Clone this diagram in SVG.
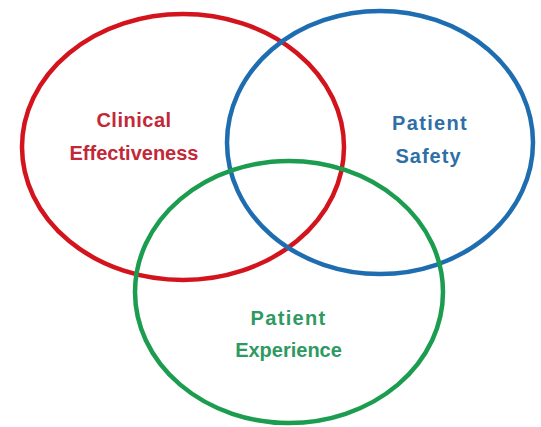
<svg xmlns="http://www.w3.org/2000/svg" width="541" height="427" viewBox="0 0 541 427">
<style>
.ring{fill:none;stroke-width:4.5}
.lbl{font-family:"Liberation Sans",Arial,sans-serif;font-weight:bold;font-size:20px;text-anchor:middle}
.wide{letter-spacing:1.3px}
</style>
<rect width="541" height="427" fill="#ffffff"/>
<g id="clinical-effectiveness">
<ellipse class="ring" cx="183" cy="147" rx="161" ry="133" stroke="#d3141d"/>
<text class="lbl" fill="#c22838" x="134" y="127" style="letter-spacing:0.5px">Clinical</text>
<text class="lbl" fill="#c22838" x="134" y="160">Effectiveness</text>
</g>
<g id="patient-safety">
<ellipse class="ring" cx="380" cy="142.5" rx="153" ry="131.5" stroke="#1f6db1"/>
<text class="lbl wide" fill="#2f6fa8" x="430" y="130">Patient</text>
<text class="lbl" fill="#2f6fa8" x="428.5" y="163" style="letter-spacing:1px">Safety</text>
</g>
<g id="patient-experience">
<ellipse class="ring" cx="289" cy="292" rx="154" ry="131" stroke="#1c9c4f"/>
<text class="lbl wide" fill="#2e9a62" x="288.5" y="325">Patient</text>
<text class="lbl" fill="#2e9a62" x="288.5" y="357">Experience</text>
</g>
<g id="connectors"/>
</svg>
